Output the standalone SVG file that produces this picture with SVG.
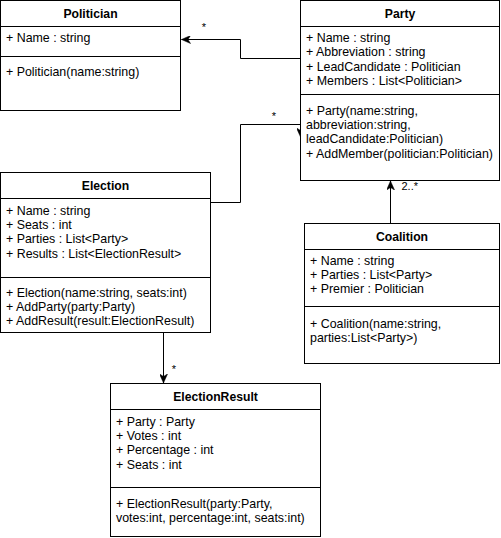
<svg xmlns="http://www.w3.org/2000/svg" width="501" height="538" viewBox="0 0 501 538">
  <style>
    .box { fill: #ffffff; stroke: #000000; stroke-width: 1; }
    .sep { stroke: #000000; stroke-width: 1; fill: none; }
    .title { font-family: "Liberation Sans", Arial, sans-serif; font-size: 12.2px; font-weight: bold; text-anchor: middle; fill: #000000; }
    .txt { font-family: "Liberation Sans", Arial, sans-serif; font-size: 12.4px; fill: #000000; }
    .edge { stroke: #000000; stroke-width: 1; fill: none; marker-end: url(#arrow); }
    .lbl { font-family: "Liberation Sans", Arial, sans-serif; font-size: 11px; fill: #000000; }
  </style>
  <defs>
    <marker id="arrow" viewBox="0 0 10 8" refX="9" refY="4" markerWidth="10" markerHeight="8" markerUnits="userSpaceOnUse" orient="auto">
      <path d="M0,0 L9,4 L0,8 L2.5,4 Z" fill="#000000" stroke="#000000" stroke-width="0.5"/>
    </marker>
  </defs>

  <rect width="501" height="538" fill="#ffffff"/>

  <!-- associations -->
  <g id="connectors">
    <path class="edge" d="M300.5,58.5 H240.5 V39.5 H181.5"/>
    <path class="edge" d="M210.5,202.5 H240.5 V124.5 H300.5 V137"/>
    <path class="edge" d="M163.5,332.5 V383"/>
    <path class="edge" d="M390.5,223.5 V181"/>
    <text class="lbl" x="204" y="30.5" text-anchor="middle">*</text>
    <text class="lbl" x="274" y="120" text-anchor="middle">*</text>
    <text class="lbl" x="174" y="372.5" text-anchor="middle">*</text>
    <text class="lbl" x="401.5" y="190">2..*</text>
  </g>

  <!-- Politician -->
  <g id="politician">
    <rect class="box" x="0.5" y="0.5" width="180" height="110"/>
    <line class="sep" x1="0.5" y1="26.5" x2="180.5" y2="26.5"/>
    <line class="sep" x1="0.5" y1="56.5" x2="180.5" y2="56.5"/>
    <text class="title" x="90.5" y="17.5">Politician</text>
    <text class="txt" x="6" y="42">+ Name : string</text>
    <text class="txt" x="6" y="76">+ Politician(name:string)</text>
  </g>

  <!-- Party -->
  <g id="party">
    <rect class="box" x="300.5" y="0.5" width="199" height="180"/>
    <line class="sep" x1="300.5" y1="26.5" x2="499.5" y2="26.5"/>
    <line class="sep" x1="300.5" y1="94.5" x2="499.5" y2="94.5"/>
    <text class="title" x="400" y="17.5">Party</text>
    <text class="txt" x="306" y="42">+ Name : string</text>
    <text class="txt" x="306" y="56.4">+ Abbreviation : string</text>
    <text class="txt" x="306" y="70.8">+ LeadCandidate : Politician</text>
    <text class="txt" x="306" y="85.2">+ Members : List&lt;Politician&gt;</text>
    <text class="txt" x="306" y="114.5">+ Party(name:string,</text>
    <text class="txt" x="306" y="128.9">abbreviation:string,</text>
    <text class="txt" x="306" y="143.3">leadCandidate:Politician)</text>
    <text class="txt" x="306" y="157.7">+ AddMember(politician:Politician)</text>
  </g>

  <!-- Election -->
  <g id="election">
    <rect class="box" x="0.5" y="172.5" width="210" height="160"/>
    <line class="sep" x1="0.5" y1="198.5" x2="210.5" y2="198.5"/>
    <line class="sep" x1="0.5" y1="277.5" x2="210.5" y2="277.5"/>
    <text class="title" x="105.5" y="189.5">Election</text>
    <text class="txt" x="6" y="214.5">+ Name : string</text>
    <text class="txt" x="6" y="228.9">+ Seats : int</text>
    <text class="txt" x="6" y="243.3">+ Parties : List&lt;Party&gt;</text>
    <text class="txt" x="6" y="257.7">+ Results : List&lt;ElectionResult&gt;</text>
    <text class="txt" x="6" y="296.5">+ Election(name:string, seats:int)</text>
    <text class="txt" x="6" y="310.9">+ AddParty(party:Party)</text>
    <text class="txt" x="6" y="325.3">+ AddResult(result:ElectionResult)</text>
  </g>

  <!-- Coalition -->
  <g id="coalition">
    <rect class="box" x="304.5" y="223.5" width="195" height="140"/>
    <line class="sep" x1="304.5" y1="249.5" x2="499.5" y2="249.5"/>
    <line class="sep" x1="304.5" y1="306.5" x2="499.5" y2="306.5"/>
    <text class="title" x="402" y="240.5">Coalition</text>
    <text class="txt" x="310" y="264.5">+ Name : string</text>
    <text class="txt" x="310" y="278.9">+ Parties : List&lt;Party&gt;</text>
    <text class="txt" x="310" y="293.3">+ Premier : Politician</text>
    <text class="txt" x="310" y="327.5">+ Coalition(name:string,</text>
    <text class="txt" x="310" y="341.9">parties:List&lt;Party&gt;)</text>
  </g>

  <!-- ElectionResult -->
  <g id="election-result">
    <rect class="box" x="110.5" y="383.5" width="210" height="153"/>
    <line class="sep" x1="110.5" y1="409.5" x2="320.5" y2="409.5"/>
    <line class="sep" x1="110.5" y1="487.5" x2="320.5" y2="487.5"/>
    <text class="title" x="215.5" y="400.5">ElectionResult</text>
    <text class="txt" x="116" y="425.5">+ Party : Party</text>
    <text class="txt" x="116" y="439.9">+ Votes : int</text>
    <text class="txt" x="116" y="454.3">+ Percentage : int</text>
    <text class="txt" x="116" y="468.7">+ Seats : int</text>
    <text class="txt" x="116" y="507.5">+ ElectionResult(party:Party,</text>
    <text class="txt" x="116" y="521.9">votes:int, percentage:int, seats:int)</text>
  </g>
</svg>
